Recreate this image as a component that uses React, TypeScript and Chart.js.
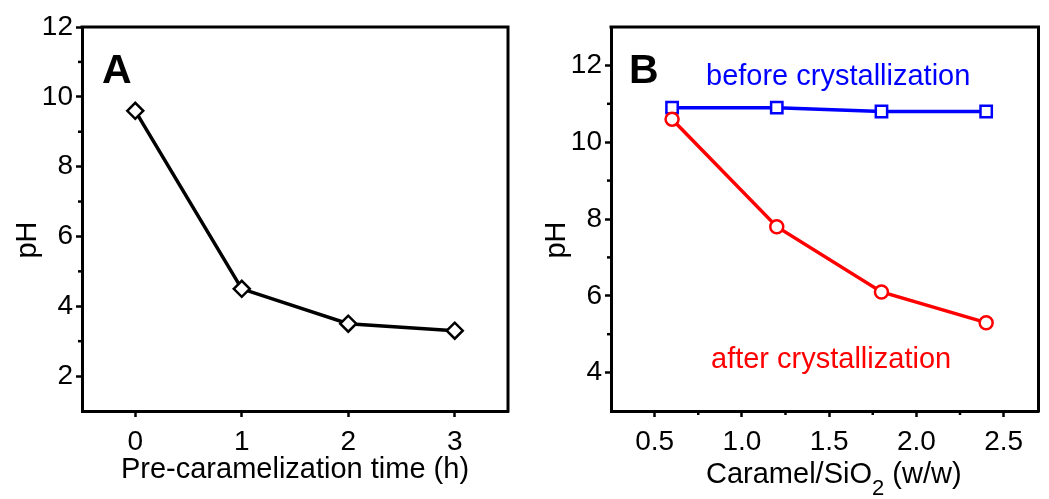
import React, { useEffect, useRef } from 'react';
import { Chart, registerables } from 'chart.js';

Chart.register(...registerables);

// ---- Data ----
const timeHours = [0, 1, 2, 3];
const phVsTime = [9.6, 4.5, 3.5, 3.3];

const ratioWW = [0.6, 1.2, 1.8, 2.4];
const phBefore = [10.9, 10.9, 10.8, 10.8];
const phAfter = [10.6, 7.8, 6.1, 5.3];

// ---- Tick labels ----
const aXTicks = [0, 1, 2, 3];
const aYTicks = [2, 4, 6, 8, 10, 12];
const aYMinor = [3, 5, 7, 9, 11];
const bXTicks = [0.5, 1.0, 1.5, 2.0, 2.5];
const bXMinor = [0.75, 1.25, 1.75, 2.25];
const bYTicks = [4, 6, 8, 10, 12];
const bYMinor = [5, 7, 9, 11];

const FAMILY = '"Liberation Sans", Arial, Helvetica, sans-serif';

function axis(pos: 'left' | 'bottom', min: number, max: number, ticks: number[], fmt: (v: number) => string, size: number) {
  return {
    type: 'linear',
    position: pos,
    min,
    max,
    afterBuildTicks: (s: any) => {
      s.ticks = ticks.map((v) => ({ value: v }));
    },
    afterFit: (s: any) => {
      if (pos === 'left') s.width = size;
      else s.height = size;
    },
    ticks: {
      color: '#000',
      font: { family: FAMILY, size: 28 },
      padding: pos === 'left' ? 3 : 8,
      autoSkip: false,
      maxRotation: 0,
      minRotation: 0,
      callback: (v: any) => fmt(Number(v)),
    },
    grid: {
      drawOnChartArea: false,
      drawTicks: true,
      tickLength: 6,
      tickWidth: 2.5,
      tickColor: '#000',
    },
    border: { display: true, color: '#000', width: 3 },
    title: { display: false },
  };
}

const framePlugin = {
  id: 'frame',
  afterDraw(chart: any, _args: any, opts: any) {
    const { ctx, chartArea: a } = chart;
    const xs = chart.scales.x;
    const ys = chart.scales.y;
    ctx.save();
    ctx.strokeStyle = '#000';
    ctx.lineWidth = 3;
    ctx.beginPath();
    ctx.moveTo(a.left - 1.5, a.top);
    ctx.lineTo(a.right, a.top);
    ctx.lineTo(a.right, a.bottom + 1.5);
    ctx.stroke();
    ctx.lineWidth = 2.5;
    // minor ticks
    (opts.minorY || []).forEach((v: number) => {
      const y = ys.getPixelForValue(v);
      ctx.beginPath();
      ctx.moveTo(a.left - 4, y);
      ctx.lineTo(a.left, y);
      ctx.stroke();
    });
    (opts.minorX || []).forEach((v: number) => {
      const x = xs.getPixelForValue(v);
      ctx.beginPath();
      ctx.moveTo(x, a.bottom);
      ctx.lineTo(x, a.bottom + 4);
      ctx.stroke();
    });
    // texts
    (opts.texts || []).forEach((t: any) => {
      ctx.save();
      ctx.fillStyle = t.color || '#000';
      ctx.font = `${t.bold ? 'bold ' : ''}${t.size}px ${FAMILY}`;
      ctx.textAlign = t.align || 'left';
      ctx.textBaseline = t.baseline || 'alphabetic';
      ctx.translate(t.x, t.y);
      if (t.rotate) ctx.rotate(t.rotate);
      if (t.parts) {
        let cx = 0;
        t.parts.forEach((p: any) => {
          ctx.font = `${p.size}px ${FAMILY}`;
          ctx.fillText(p.text, cx, p.dy || 0);
          cx += ctx.measureText(p.text).width;
        });
      } else {
        ctx.fillText(t.text, 0, 0);
      }
      ctx.restore();
    });
    ctx.restore();
  },
};

function ChartA() {
  const ref = useRef<HTMLCanvasElement>(null);
  useEffect(() => {
    const chart = new Chart(ref.current as HTMLCanvasElement, {
      type: 'line',
      data: {
        datasets: [
          {
            data: timeHours.map((x, i) => ({ x, y: phVsTime[i] })),
            borderColor: '#000',
            borderWidth: 3.5,
            pointStyle: 'rectRot',
            pointRadius: 8,
            pointBorderWidth: 2.5,
            pointBackgroundColor: '#fff',
            pointBorderColor: '#000',
            tension: 0,
          },
        ],
      },
      options: {
        responsive: false,
        animation: false,
        layout: { padding: { left: 0, top: 27, right: 22, bottom: 0 } },
        plugins: {
          legend: { display: false },
          tooltip: { enabled: false },
          frame: {
            minorY: aYMinor,
            texts: [
              { text: 'A', x: 102, y: 83, size: 41, bold: true },
              { text: 'pH', x: 28, y: 240, size: 29, align: 'center', baseline: 'middle', rotate: -Math.PI / 2 },
              { text: 'Pre-caramelization time (h)', x: 295, y: 478, size: 29, align: 'center' },
            ],
          },
        } as any,
        scales: {
          x: axis('bottom', -0.5, 3.5, aXTicks, (v) => String(v), 88),
          y: axis('left', 1, 12, aYTicks, (v) => String(v), 82),
        } as any,
      },
      plugins: [framePlugin],
    } as any);
    return () => chart.destroy();
  }, []);
  return <canvas ref={ref} width={530} height={499} style={{ position: 'absolute', left: 0, top: 0 }} />;
}

function ChartB() {
  const ref = useRef<HTMLCanvasElement>(null);
  useEffect(() => {
    const chart = new Chart(ref.current as HTMLCanvasElement, {
      type: 'line',
      data: {
        datasets: [
          {
            label: 'after crystallization',
            data: ratioWW.map((x, i) => ({ x, y: phAfter[i] })),
            borderColor: '#ff0000',
            borderWidth: 3.5,
            pointStyle: 'circle',
            pointRadius: 6.5,
            pointBorderWidth: 2.5,
            pointBackgroundColor: '#fff',
            pointBorderColor: '#ff0000',
            tension: 0,
          },
          {
            label: 'before crystallization',
            data: ratioWW.map((x, i) => ({ x, y: phBefore[i] })),
            borderColor: '#0000ff',
            borderWidth: 3.5,
            pointStyle: 'rect',
            pointRadius: 8,
            pointBorderWidth: 2.5,
            pointBackgroundColor: '#fff',
            pointBorderColor: '#0000ff',
            tension: 0,
          },
        ],
      },
      options: {
        responsive: false,
        animation: false,
        layout: { padding: { left: 0, top: 27, right: 1.5, bottom: 0 } },
        plugins: {
          legend: { display: false },
          tooltip: { enabled: false },
          frame: {
            minorY: bYMinor,
            minorX: bXMinor,
            texts: [
              { text: 'B', x: 99, y: 83, size: 41, bold: true },
              { text: 'before crystallization', x: 176, y: 85, size: 29, color: '#0000ff' },
              { text: 'after crystallization', x: 181, y: 368, size: 29, color: '#ff0000' },
              { text: 'pH', x: 27, y: 240, size: 29, align: 'center', baseline: 'middle', rotate: -Math.PI / 2 },
              {
                x: 176,
                y: 483,
                size: 29,
                parts: [
                  { text: 'Caramel/SiO', size: 29 },
                  { text: '2', size: 22, dy: 12 },
                  { text: ' (w/w)', size: 29 },
                ],
              },
            ],
          },
        } as any,
        scales: {
          x: axis('bottom', 0.25, 2.7, bXTicks, (v) => v.toFixed(1), 88),
          y: axis('left', 3, 13, bYTicks, (v) => String(v), 81),
        } as any,
      },
      plugins: [framePlugin],
    } as any);
    return () => chart.destroy();
  }, []);
  return <canvas ref={ref} width={519} height={499} style={{ position: 'absolute', left: 530, top: 0 }} />;
}

export default function App() {
  return (
    <div style={{ position: 'absolute', left: 0, top: 0, width: 1049, height: 499, background: '#fff', overflow: 'hidden' }}>
      <ChartA />
      <ChartB />
    </div>
  );
}
